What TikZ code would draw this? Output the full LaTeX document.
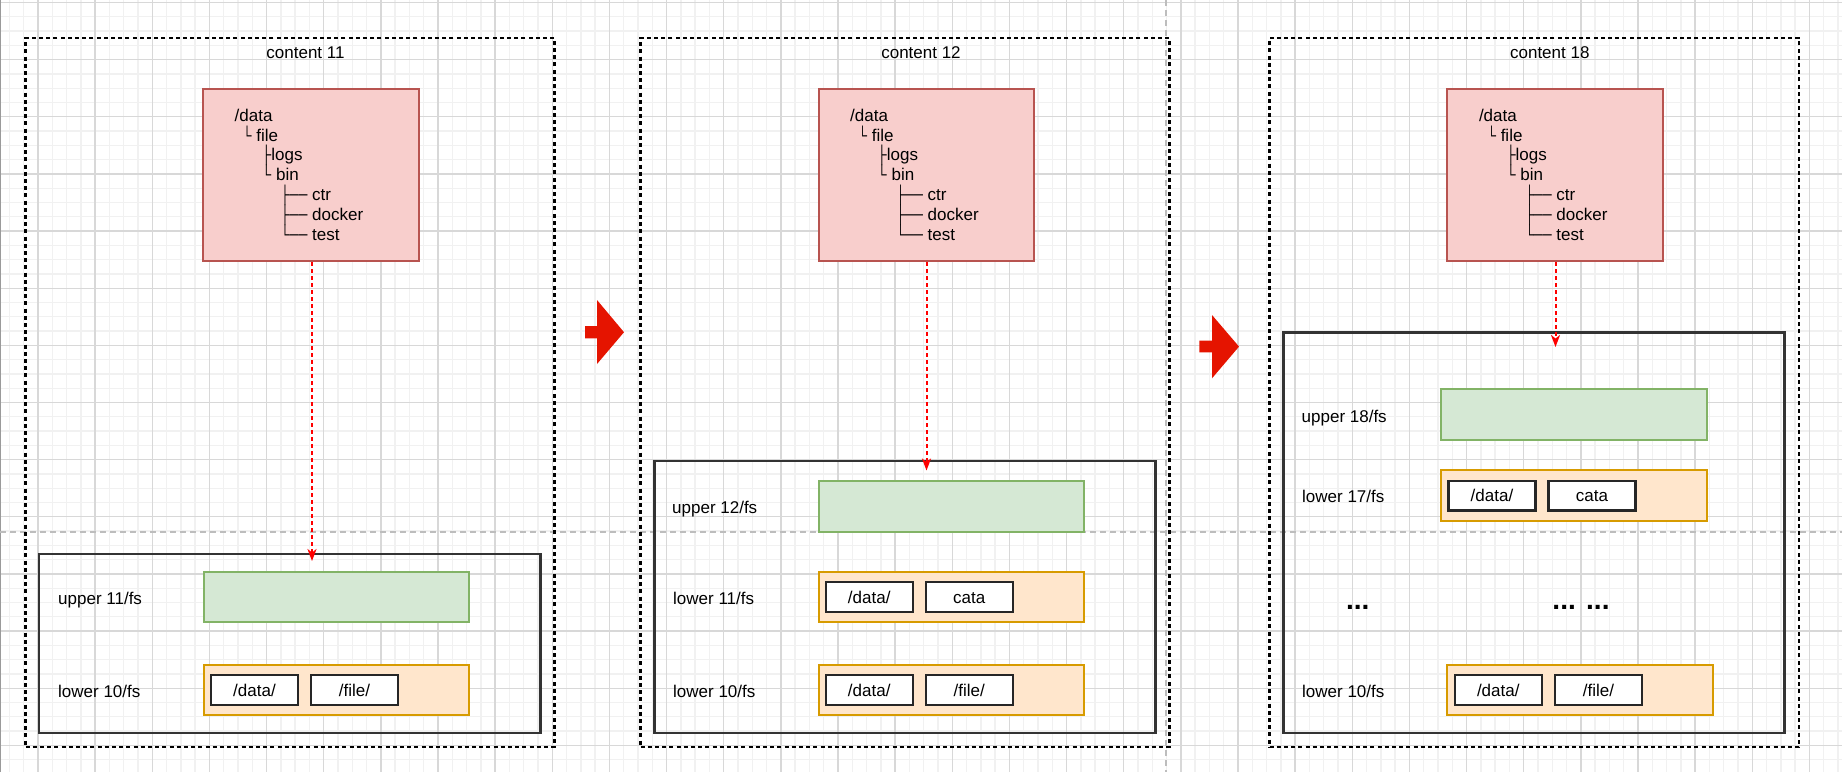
\documentclass[tikz,border=0pt]{standalone}
\usepackage{fontspec}
\usepackage{graphicx}
\setmainfont{Liberation Sans}
\usetikzlibrary{arrows.meta}
\definecolor{pinkfill}{HTML}{F8CECC}
\definecolor{pinkdraw}{HTML}{B85450}
\definecolor{greenfill}{HTML}{D5E8D4}
\definecolor{greendraw}{HTML}{82B366}
\definecolor{orangefill}{HTML}{FFE6CC}
\definecolor{orangedraw}{HTML}{D79B00}
\definecolor{arrowred}{HTML}{E51400}
\definecolor{minorline}{HTML}{F1F1F1}
\definecolor{majorline}{HTML}{D8D8D8}
\definecolor{guidegrey}{HTML}{BDBDBD}
\definecolor{boxblack}{HTML}{333333}
\definecolor{edgegrey}{HTML}{9A9A9A}

\newcommand\rectnode[7][]{%
  \pgfmathsetmacro\rnW{#5-#3}%
  \pgfmathsetmacro\rnH{#6-#4}%
  \pgfmathsetmacro\rnX{(#3+#5)/2}%
  \pgfmathsetmacro\rnY{(#4+#6)/2}%
  \node[#1, minimum width=\rnW pt, minimum height=\rnH pt] (#2) at (\rnX,\rnY) {#7};%
}
\newcommand\treefont{\fontsize{17}{19.8}\selectfont\lineskiplimit=-50pt\relax\lineskip=0pt\relax}
\newcommand\bxchar[2]{\scalebox{#1}[1]{#2}}
\newcommand\treetext{%
  \rule{0pt}{13pt}/data\\
  \hspace*{8pt}\bxchar{0.75}{└} file\\
  \hspace*{27pt}\bxchar{0.8}{├}logs\\
  \hspace*{27pt}\bxchar{0.8}{└} bin\\
  \hspace*{46pt}\bxchar{0.74}{├──} ctr\\
  \hspace*{46pt}\bxchar{0.74}{├──} docker\\
  \hspace*{46pt}\bxchar{0.74}{└──} test}
% #1 suffix, #2 dotted left, #3 dotted right, #4 pink left, #5 title
\newcommand\panel[5]{%
  \rectnode[dotbox]{outer#1}{#2}{38}{#3}{747}{}
  \pgfmathsetmacro\pcx{#4+102.5}
  \node[txt] (title#1) at (\pcx,52) {#5};
  \pgfmathsetmacro\pkr{#4+215.5}
  \rectnode[pinkbox]{tree#1}{#4}{89}{\pkr}{261}{}
  \pgfmathsetmacro\ptx{#4+31.5}
  \node[treestyle, anchor=north west] (list#1) at (\ptx,108) {\treetext};
}

\tikzset{
  txt/.style={font=\fontsize{17}{20}\selectfont, text height=12pt, text depth=0pt, inner sep=0pt},
  dotbox/.style={draw=black, line width=2.4pt, dash pattern=on 4pt off 3.2pt, inner sep=0pt},
  pinkbox/.style={draw=pinkdraw, fill=pinkfill, line width=2pt, inner sep=0pt},
  greenbox/.style={draw=greendraw, fill=greenfill, line width=2pt, inner sep=0pt},
  orangebox/.style={draw=orangedraw, fill=orangefill, line width=2pt, inner sep=0pt},
  layerbox/.style={draw=boxblack, line width=2.8pt, inner sep=0pt},
  pathbox/.style={draw=black!85, fill=white, line width=2.4pt, txt},
  treestyle/.style={font=\treefont, align=left, inner sep=0pt},
  guide/.style={draw=guidegrey, line width=1.5pt, dash pattern=on 6pt off 4pt},
  mount/.style={draw=red, line width=2pt, dash pattern=on 4pt off 3pt,
    -{Stealth[length=12pt,width=9pt,inset=3.5pt]}},
  dotstxt/.style={font=\bfseries\fontsize{28}{30}\selectfont, inner sep=0pt},
  minorgrid/.style={draw=minorline, line width=1.4pt},
  majorgrid/.style={draw=majorline, line width=1.4pt},
}

\begin{document}
\begin{tikzpicture}[x=1pt,y=-1pt]
\useasboundingbox (0,0) rectangle (1842,772);
\fill[white] (0,0) rectangle (1842,772);
% background grid
\foreach \i in {0,...,128} \draw[minorgrid] ({9.43+14.2857*\i},0) -- ++(0,772);
\foreach \j in {0,...,53} \draw[minorgrid] (0,{2.5+14.2857*\j}) -- ++(1842,0);
\foreach \k in {0,...,31} \draw[majorgrid] ({38+57.143*\k},0) -- ++(0,772);
\foreach \k in {0,...,13} \draw[majorgrid] (0,{2.5+57.143*\k}) -- ++(1842,0);
\draw[edgegrey, line width=1.2pt] (0.6,0) -- (0.6,772);
% page guides
\draw[guide] (0,532) -- (1842,532);
\draw[guide] (1166,0) -- (1166,772);

% ---------- panel 1 ----------
\panel{A}{25.5}{554.5}{203}{content 11}
\rectnode[layerbox]{stackA}{39}{554}{540.5}{733}{}
\rectnode[greenbox]{upA}{204}{572}{469}{622}{}
\rectnode[orangebox]{lowA}{204}{665}{469}{715}{}
\rectnode[pathbox]{lowAdata}{211}{675}{298}{705}{/data/}
\rectnode[pathbox]{lowAfile}{311}{675}{398}{705}{/file/}
\node[txt, anchor=west] (upAlbl) at (58,598) {upper 11/fs};
\node[txt, anchor=west] (lowAlbl) at (58,691) {lower 10/fs};
\coordinate (endA) at (312,561);
\draw[mount] (treeA.south -| endA) -- (endA);

% ---------- panel 2 ----------
\panel{B}{640.5}{1169.5}{818.5}{content 12}
\rectnode[layerbox]{stackB}{654.3}{461}{1155.6}{733}{}
\rectnode[greenbox]{upB}{818.8}{481}{1083.7}{532}{}
\rectnode[orangebox]{midB}{818.8}{572}{1083.7}{622}{}
\rectnode[pathbox]{midBdata}{825.7}{582}{912.7}{612}{/data/}
\rectnode[pathbox]{midBcata}{925.7}{582}{1012.7}{612}{cata}
\rectnode[orangebox]{lowB}{818.8}{665}{1083.7}{715}{}
\rectnode[pathbox]{lowBdata}{825.7}{675}{912.7}{705}{/data/}
\rectnode[pathbox]{lowBfile}{925.7}{675}{1012.7}{705}{/file/}
\node[txt, anchor=west] (upBlbl) at (672,507) {upper 12/fs};
\node[txt, anchor=west] (midBlbl) at (673,598) {lower 11/fs};
\node[txt, anchor=west] (lowBlbl) at (673,691) {lower 10/fs};
\coordinate (endB) at (926.5,470.5);
\draw[mount] (treeB.south -| endB) -- (endB);

% ---------- panel 3 ----------
\panel{C}{1269.5}{1799}{1447.3}{content 18}
\rectnode[layerbox]{stackC}{1283.5}{332.3}{1784.1}{733}{}
\rectnode[greenbox]{upC}{1441.4}{389.3}{1706.8}{440}{}
\rectnode[orangebox]{midC}{1441.4}{470.3}{1706.8}{520.7}{}
\rectnode[pathbox]{midCdata}{1448.5}{480.7}{1535.4}{510.3}{/data/}
\rectnode[pathbox]{midCcata}{1548.5}{480.7}{1635.3}{510.3}{cata}
\rectnode[orangebox]{lowC}{1447.3}{665}{1712.7}{715}{}
\rectnode[pathbox]{lowCdata}{1454.8}{675}{1541.7}{705}{/data/}
\rectnode[pathbox]{lowCfile}{1555.2}{675}{1641.7}{705}{/file/}
\node[txt, anchor=west] (upClbl) at (1301.5,416) {upper 18/fs};
\node[txt, anchor=west] (midClbl) at (1302,496) {lower 17/fs};
\node[txt, anchor=west] (lowClbl) at (1302,691) {lower 10/fs};
\node[dotstxt, anchor=base] (dotsL) at (1357.7,609.5) {...};
\node[dotstxt, anchor=base] (dotsR) at (1581,609.5) {... ...};
\coordinate (endC) at (1555.5,347);
\draw[mount] (treeC.south -| endC) -- (endC);

% ---------- transition arrows ----------
\fill[arrowred] (585,326) -- (597,326) -- (597,300) -- (624,332.2) -- (597,364)
  -- (597,338.3) -- (585,338.3) -- cycle;
\fill[arrowred] (1199.3,340.7) -- (1212,340.7) -- (1212,315) -- (1239,346.6)
  -- (1212,378.3) -- (1212,352.3) -- (1199.3,352.3) -- cycle;
\end{tikzpicture}
\end{document}
